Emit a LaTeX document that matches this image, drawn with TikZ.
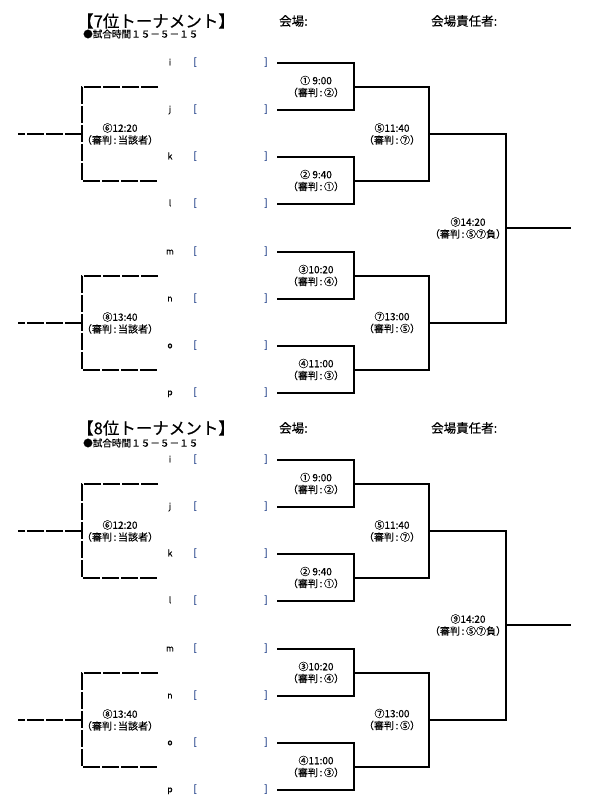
\documentclass[tikz,border=0pt]{standalone}
\usepackage{fontspec}
\setmainfont{Noto Sans CJK JP}[FakeBold=0.4]
\definecolor{brkblue}{RGB}{40,70,140}
\tikzset{
  lbl/.style={font=\fontsize{10}{12}\selectfont, align=center, inner sep=0pt},
  rowlbl/.style={font=\fontsize{8.5}{9}\selectfont, inner sep=0pt, text height=6pt, text depth=1.5pt},
  brk/.style={font=\fontsize{10}{10}\selectfont, inner sep=0pt, text=brkblue, text height=6pt, text depth=1.5pt},
  wire/.style={line width=2pt},
  dwire/.style={line width=2pt, dash pattern=on 17pt off 2pt},
  ttl/.style={font=\fontsize{16.5}{18}\selectfont, anchor=west, inner sep=0pt},
  subttl/.style={font=\fontsize{9.6}{11}\selectfont, anchor=west, inner sep=0pt},
  hdr/.style={font=\fontsize{12.5}{14}\selectfont, anchor=west, inner sep=0pt}
}
\newcommand\tournament[5]{%
\begin{scope}[name prefix=#1-, yshift=#5]
  \node[ttl] (title) at (77,#3) {【#2位トーナメント】};
  \node[subttl] (time) at (83,#4) {●試合時間１５－５－１５};
  \node[hdr] (venue) at (279,#3) {会場:};
  \node[hdr] (chief) at (431,#3) {会場責任者:};
  \foreach \rw/\yy in {i/63,j/110,k/157,l/204,m/252,n/299,o/346,p/393}{
    \node[rowlbl] (t-\rw) at (170,\yy) {\rw};
    \node[brk] (ob-\rw) at (195,\yy) {[};
    \node[brk] (cb-\rw) at (266,\yy) {]};
    \coordinate (e-\rw) at (277,\yy);
  }
  \coordinate (m1) at (354,86.5);
  \coordinate (m2) at (354,180.5);
  \coordinate (m3) at (354,275.5);
  \coordinate (m4) at (354,369.5);
  \coordinate (m5) at (429,133.5);
  \coordinate (m7) at (429,322.5);
  \coordinate (m9) at (506,228);
  \coordinate (fin) at (571,228);
  \draw[wire] (e-i) -| (m1) |- (e-j);
  \draw[wire] (e-k) -| (m2) |- (e-l);
  \draw[wire] (e-m) -| (m3) |- (e-n);
  \draw[wire] (e-o) -| (m4) |- (e-p);
  \draw[wire] (m1) -| (m5) |- (m2);
  \draw[wire] (m3) -| (m7) |- (m4);
  \draw[wire] (m5) -| (m9) |- (m7);
  \draw[wire] (m9) -- (fin);
  \node[lbl] (l1) at (316,86.5) {① 9:00\\（審判\,:\,②）};
  \node[lbl] (l2) at (316,180.5) {② 9:40\\（審判\,:\,①）};
  \node[lbl] (l3) at (316,275.5) {③10:20\\（審判\,:\,④）};
  \node[lbl] (l4) at (316,369.5) {④11:00\\（審判\,:\,③）};
  \node[lbl] (l5) at (392,134) {⑤11:40\\（審判\,:\,⑦）};
  \node[lbl] (l7) at (392,322.5) {⑦13:00\\（審判\,:\,⑤）};
  \node[lbl] (l9) at (468,228) {⑨14:20\\（審判\,:\,⑤⑦負）};
  % consolation (dashed)
  \coordinate (d6t) at (158,87);
  \coordinate (d6b) at (158,181);
  \coordinate (d6) at (82,134);
  \coordinate (d6l) at (18,134);
  \coordinate (d8t) at (158,276);
  \coordinate (d8b) at (158,370);
  \coordinate (d8) at (82,323);
  \coordinate (d8l) at (18,323);
  \draw[dwire] (d6t) -| (d6) |- (d6b);
  \draw[dwire] (d6) -- (d6l);
  \draw[dwire] (d8t) -| (d8) |- (d8b);
  \draw[dwire] (d8) -- (d8l);
  \node[lbl] (l6) at (120,134) {⑥12:20\\（審判\,:\,当該者）};
  \node[lbl] (l8) at (120,323) {⑧13:40\\（審判\,:\,当該者）};
\end{scope}}
\begin{document}
\begin{tikzpicture}[x=1pt,y=-1pt]
  \useasboundingbox (0,0) rectangle (594,812);
  \tournament{top}{7}{21}{34}{0pt}
  \tournament{bot}{8}{31}{46}{-397pt}
\end{tikzpicture}
\end{document}
